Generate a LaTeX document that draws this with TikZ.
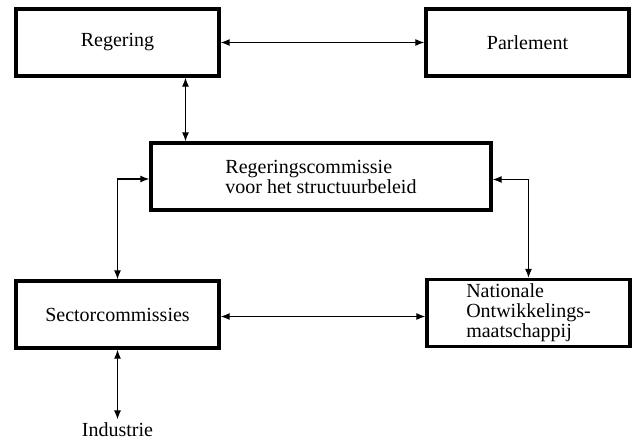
\documentclass[tikz,border=0pt]{standalone}
\usepackage{fontspec}
\setmainfont{Liberation Serif}
\usetikzlibrary{arrows.meta}
\tikzset{
  blok/.style={draw, line width=3.4pt, minimum width=203pt, minimum height=67pt, inner sep=2pt, font=\fontsize{20}{20}\selectfont},
  link/.style={line width=1.1pt, {Latex[length=9pt,width=7pt]}-{Latex[length=9pt,width=7pt]}}
}
\begin{document}
\begin{tikzpicture}[x=1pt,y=-1pt]
            \useasboundingbox (0,0) rectangle (636,441);
            % Boxes of the top row
            \node[blok] (regering) at (117.5,42.5) {Regering}; % Top left
            \node[blok] (parlement) at (527.5,42.5) {Parlement}; % Top right

            % Middle box
            \node[blok, minimum width=340pt, align=left] (regcomm) at (321,176.5) {Regeringscommissie\\voor het structuurbeleid};

            % Boxes of the bottom row
            \node[blok] (sector) at (117.5,314.5) {Sectorcommissies}; % Bottom left
            \node[blok, align=left] (nationale) at (528.5,313) {Nationale\\Ontwikkelings-\\maatschappij}; % Bottom right
            \node[font=\fontsize{20}{20}\selectfont] (industrie) at (117.5,430) {Industrie};

            % Connect the boxes
            \draw[link] (regering.east) -- (parlement.west); % Regering - Parlement
            \draw[link] ([xshift=68pt]regering.south) -- ([xshift=68pt]regering.south |- regcomm.north); % Regering - commissie
            \draw[link] ([yshift=-2.5pt]regcomm.west) -| (sector.north); % commissie - Sectorcommissies
            \draw[link] ([yshift=-3pt]regcomm.east) -| (nationale.north); % commissie - Nationale
            \draw[link] ([yshift=-2pt]sector.east) -- ([yshift=-2pt]sector.east -| nationale.west); % Sector - Nationale
            \draw[link] (sector.south) -- (industrie.north); % Sector - Industrie
        \end{tikzpicture}
\end{document}
